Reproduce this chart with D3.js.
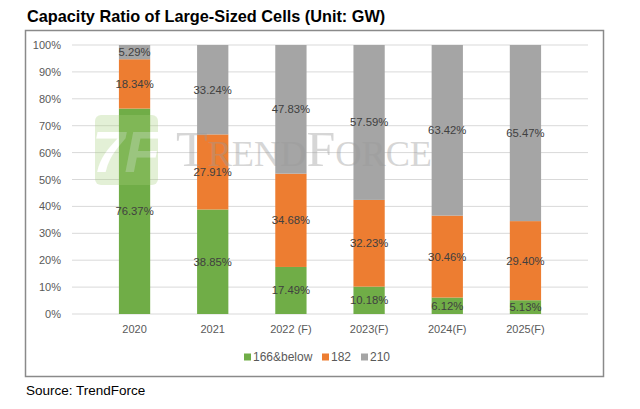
<!DOCTYPE html>
<html>
<head>
<meta charset="utf-8">
<script src="https://cdn.jsdelivr.net/npm/d3@7"></script>
<style>
  body { margin: 0; background: #fff; }
  text { font-family: "Liberation Sans", Arial, sans-serif; }
</style>
</head>
<body>
<div id="vis-1"></div>
<script>
// -------------------------------- Datos ----------------------
const years = ["2020", "2021", "2022 (F)", "2023(F)", "2024(F)", "2025(F)"];
const sizes = ["166&below", "182", "210"];
const below166 = [76.37, 38.85, 17.49, 10.18, 6.12, 5.13];
const s182 = [18.34, 27.91, 34.68, 32.23, 30.46, 29.40];
const s210 = [5.29, 33.24, 47.83, 57.59, 63.42, 65.47];
const yTicks = [0, 10, 20, 30, 40, 50, 60, 70, 80, 90, 100];

const COLOR = d3.scaleOrdinal()
  .domain(sizes)
  .range(["#70ad47", "#ed7d31", "#a5a5a5"]);

// -------------------------------- Grafo ------------------------
const W = 640, H = 409;
const svg = d3.select("#vis-1").append("svg")
  .attr("width", W)
  .attr("height", H);

// titulo
svg.append("text")
  .attr("x", 27).attr("y", 22)
  .style("font-size", "16.3px")
  .style("font-weight", "bold")
  .attr("fill", "#000")
  .text("Capacity Ratio of Large-Sized Cells (Unit: GW)");

// marco
svg.append("rect")
  .attr("x", 25.5).attr("y", 30.5)
  .attr("width", 578).attr("height", 346)
  .attr("fill", "none")
  .attr("stroke", "#8a8a8a")
  .attr("stroke-width", 1.5);

const x = d3.scaleBand().domain(years).range([72, 588]).padding(0.6);
const y = d3.scaleLinear().domain([0, 100]).range([314, 45]);

// grilla
svg.append("g").selectAll("line")
  .data(yTicks)
  .enter().append("line")
  .attr("x1", 72).attr("x2", 588)
  .attr("y1", d => y(d)).attr("y2", d => y(d))
  .attr("stroke", "#d9d9d9")
  .attr("stroke-width", 1);

// eje y
const yAxis = svg.append("g")
  .attr("transform", "translate(61,0)")
  .call(d3.axisLeft(y).tickValues(yTicks).tickSize(0).tickFormat(d => d + "%"));
yAxis.select(".domain").remove();
yAxis.selectAll("text")
  .attr("x", 0)
  .style("font-size", "11px")
  .attr("fill", "#595959");

// eje x
const xAxis = svg.append("g")
  .attr("transform", "translate(0,314)")
  .call(d3.axisBottom(x).tickSize(0));
xAxis.select(".domain").remove();
xAxis.selectAll("text")
  .attr("dy", "1.45em")
  .style("font-size", "11px")
  .attr("fill", "#595959");

// barras apiladas
const table = years.map((yr, i) => ({
  year: yr,
  "166&below": below166[i],
  "182": s182[i],
  "210": s210[i]
}));
const series = d3.stack().keys(sizes)(table);

const layer = svg.append("g").selectAll("g")
  .data(series)
  .enter().append("g")
  .attr("fill", d => COLOR(d.key));

layer.selectAll("rect")
  .data(d => d)
  .enter().append("rect")
  .attr("x", d => x(d.data.year))
  .attr("y", d => y(d[1]))
  .attr("width", x.bandwidth())
  .attr("height", d => y(d[0]) - y(d[1]));

// marca de agua (encima de las barras, semitransparente)
const wm = svg.append("g").attr("opacity", 0.3);
wm.append("rect")
  .attr("x", 95).attr("y", 115)
  .attr("width", 63).attr("height", 70)
  .attr("rx", 6)
  .attr("fill", "#a6d07a");
wm.append("text")
  .attr("x", 126).attr("y", 172)
  .attr("text-anchor", "middle")
  .style("font-size", "58px")
  .style("font-weight", "bold")
  .style("font-style", "italic")
  .attr("fill", "#fff")
  .text("7F");
svg.append("text")
  .attr("x", 176).attr("y", 166)
  .attr("textLength", 256)
  .attr("lengthAdjust", "spacingAndGlyphs")
  .style("font-family", "'Liberation Serif', 'Times New Roman', serif")
  .style("font-size", "50px")
  .style("font-variant", "small-caps")
  .attr("fill", "#9a9a9a")
  .attr("opacity", 0.4)
  .text("TrendForce");

// etiquetas
layer.selectAll("text")
  .data(d => d)
  .enter().append("text")
  .attr("x", d => x(d.data.year) + x.bandwidth() / 2)
  .attr("y", d => y((d[0] + d[1]) / 2))
  .attr("dy", "0.35em")
  .attr("text-anchor", "middle")
  .style("font-size", "11.3px")
  .attr("fill", "#404040")
  .text(d => (d[1] - d[0]).toFixed(2) + "%");
layer.raise();
layer.selectAll("rect").lower();

// leyenda
const legX = [244, 322, 361];
const leg = svg.append("g").selectAll("g")
  .data(sizes)
  .enter().append("g")
  .attr("transform", (d, i) => "translate(" + legX[i] + ",357)");
leg.append("rect")
  .attr("x", 0).attr("y", -3.5)
  .attr("width", 7).attr("height", 7)
  .attr("fill", d => COLOR(d));
leg.append("text")
  .attr("x", 9).attr("dy", "0.35em")
  .style("font-size", "12px")
  .attr("fill", "#595959")
  .text(d => d);

// fuente
svg.append("text")
  .attr("x", 26).attr("y", 395)
  .style("font-size", "13.5px")
  .attr("fill", "#000")
  .text("Source: TrendForce");
</script>
</body>
</html>
